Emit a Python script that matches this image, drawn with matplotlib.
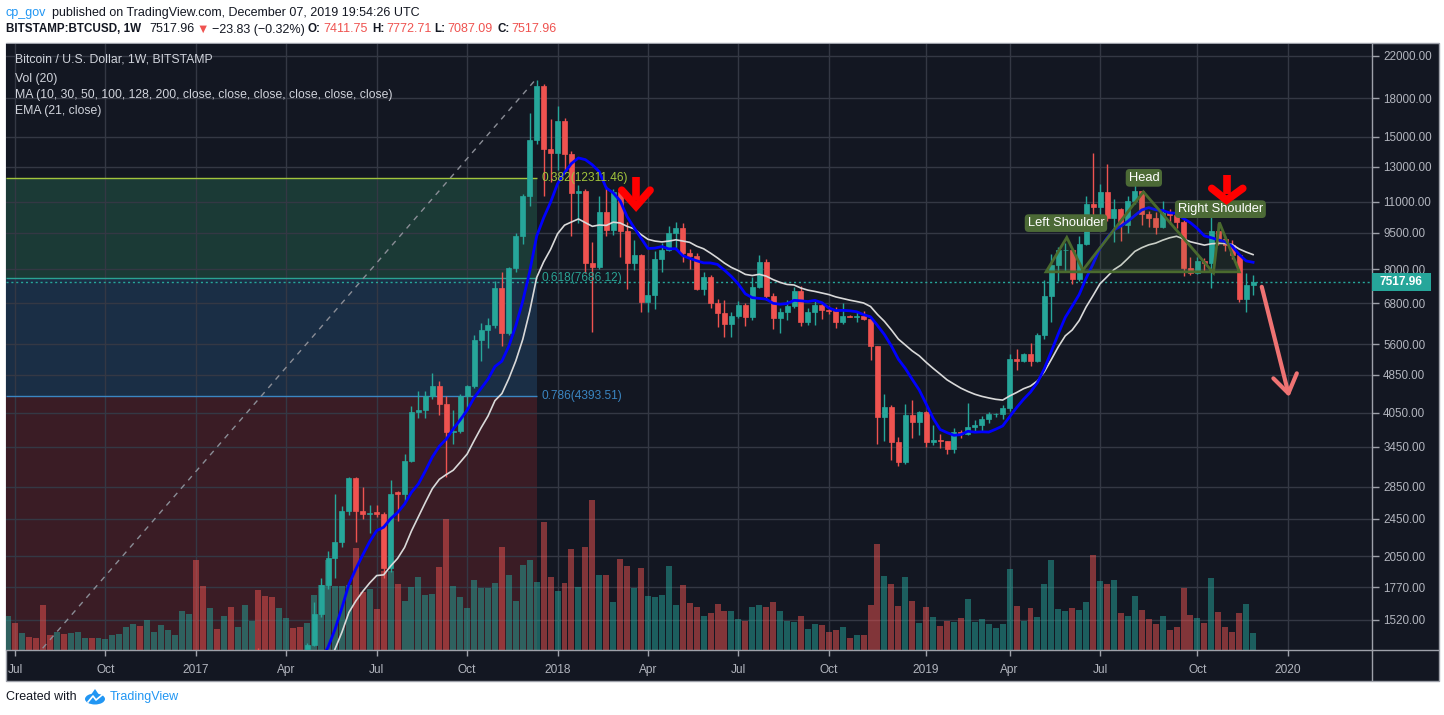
import numpy as np
import pandas as pd
import matplotlib
matplotlib.use("Agg")
import matplotlib.pyplot as plt
import matplotlib.transforms as mtransforms
from matplotlib.patches import Rectangle, Polygon, Ellipse
from matplotlib.lines import Line2D
from matplotlib.ticker import NullLocator, NullFormatter

plt.rcParams['font.family'] = ['Liberation Sans', 'DejaVu Sans']

# ---------------- data (weekly BITSTAMP:BTCUSD, first week starts 2016-06-27) -------------
FIRST_WEEK = "2016-06-27"
OPEN = [
    625, 660, 650, 665, 655, 625, 590, 570, 580, 570,
    605, 608, 610, 603, 612, 618, 640, 655, 700, 705,
    702, 735, 740, 765, 775, 790, 890, 995, 905, 820,
    920, 915, 1010, 995, 1050, 1180, 1250, 1230, 1020, 965,
    1090, 1180, 1175, 1170, 1350, 1560, 1790, 2030, 2190, 2540,
    2975, 2540, 2510, 2530, 2510, 1940, 2780, 2755, 3220, 4060,
    4100, 4380, 4600, 4230, 3690, 3710, 4390, 4600, 5720, 6000,
    6150, 7320, 5900, 8050, 9340, 11290, 14740, 19040, 14170, 13870,
    16180, 13800, 11500, 11590, 8220, 8070, 10490, 9630, 11505, 9600,
    8220, 8560, 6840, 7080, 8380, 8740, 9500, 9730, 8630, 8500,
    7290, 7720, 6810, 6500, 6180, 6400, 6760, 6380, 7340, 8260,
    7060, 6340, 6520, 6720, 7220, 6240, 6530, 6760, 6600, 6570,
    6240, 6400, 6390, 6420, 6330, 5570, 3970, 4160, 3530, 3200,
    4000, 3870, 4070, 3520, 3560, 3540, 3410, 3690, 3660, 3780,
    3830, 3940, 4020, 4030, 4150, 5230, 5180, 5350, 5170, 5850,
    7030, 8150, 8760, 8780, 7650, 9000, 10890, 10760, 11530, 10190,
    10650, 9880, 11040, 11560, 10400, 10180, 9790, 10440, 10320, 10020,
    8060, 7870, 8320, 8250, 9590, 9240, 8950, 8550, 6930, 7411.75,
]
HIGH = [
    705, 680, 680, 680, 660, 630, 600, 590, 585, 615,
    630, 612, 612, 615, 622, 645, 660, 720, 745, 740,
    755, 750, 770, 780, 800, 925, 1000, 1150, 910, 935,
    925, 1030, 1065, 1060, 1200, 1280, 1330, 1260, 1060, 1100,
    1210, 1215, 1270, 1360, 1650, 1850, 2100, 2760, 2600, 2990,
    2990, 2850, 2610, 2620, 2530, 2950, 2790, 3330, 4190, 4480,
    4480, 4890, 4700, 4380, 4100, 4420, 4620, 5850, 6200, 6350,
    7550, 7880, 8100, 9500, 11400, 16800, 19600, 19200, 16300, 17300,
    16400, 14000, 11900, 11720, 9100, 11340, 11860, 11700, 11700, 9980,
    9200, 8600, 7560, 8710, 9040, 9830, 9980, 9950, 8810, 8650,
    7880, 7780, 6930, 6920, 6530, 6870, 6820, 7700, 8540, 8380,
    7150, 6650, 6920, 7340, 7370, 6650, 6920, 6860, 6720, 6700,
    6800, 6440, 6530, 6570, 6350, 5570, 4420, 4200, 3610, 4230,
    4310, 4090, 4090, 3830, 3670, 3550, 3760, 3730, 4240, 3920,
    3980, 4060, 4050, 4200, 5360, 5480, 5370, 5630, 5900, 7600,
    8580, 8900, 9050, 8800, 9370, 11310, 13880, 12000, 13150, 11130,
    10700, 11300, 12300, 11600, 10560, 10470, 11030, 10640, 10640, 10100,
    8460, 8480, 8450, 10350, 9950, 9350, 9170, 8600, 7840, 7772.71,
]
LOW = [
    610, 610, 645, 650, 620, 480, 565, 565, 565, 565,
    600, 600, 592, 598, 606, 612, 630, 650, 685, 690,
    695, 720, 725, 755, 770, 785, 885, 750, 760, 810,
    880, 910, 950, 990, 1040, 1140, 1100, 950, 890, 930,
    1080, 1140, 1160, 1165, 1340, 1540, 1760, 1850, 2140, 2500,
    2190, 2450, 2290, 2470, 1850, 1900, 2420, 2650, 3200, 3950,
    3950, 4330, 4000, 2980, 3500, 3680, 4150, 4560, 5170, 5500,
    6050, 5550, 5850, 7900, 9000, 10800, 14500, 11290, 12100, 12800,
    12800, 9340, 9950, 7850, 5950, 8000, 9340, 9400, 8470, 7290,
    7950, 6530, 6530, 6620, 7880, 8700, 8780, 8280, 7990, 7250,
    7080, 6640, 6080, 5800, 5800, 6340, 6120, 6300, 7300, 6920,
    6030, 5900, 6300, 6650, 6120, 6150, 6130, 6320, 6460, 6060,
    6180, 6370, 6240, 6300, 5200, 3500, 3540, 3230, 3140, 3180,
    3590, 3640, 3450, 3480, 3420, 3330, 3340, 3590, 3640, 3700,
    3700, 3850, 3960, 3930, 4080, 4950, 5150, 5050, 5150, 5750,
    6230, 7550, 7900, 7450, 7580, 8950, 10300, 9700, 10050, 9090,
    9160, 9500, 10900, 9880, 9770, 9470, 9700, 9900, 9700, 7750,
    7790, 7800, 7900, 7300, 8950, 8730, 8400, 6860, 6540, 7087.09,
]
CLOSE = [
    665, 650, 665, 655, 625, 590, 570, 580, 570, 605,
    608, 610, 603, 612, 618, 640, 655, 700, 705, 702,
    735, 740, 765, 775, 790, 890, 995, 905, 820, 920,
    915, 1010, 995, 1050, 1180, 1250, 1230, 1020, 965, 1090,
    1180, 1175, 1170, 1350, 1560, 1790, 2030, 2190, 2540, 2975,
    2540, 2510, 2520, 2510, 1940, 2755, 2755, 3220, 4060, 4100,
    4380, 4600, 4230, 3700, 3710, 4390, 4600, 5720, 6000, 6150,
    7320, 5900, 8050, 9340, 11290, 14740, 19040, 14170, 13870, 16180,
    13800, 11500, 11590, 8220, 8070, 10490, 9630, 11505, 9600, 8220,
    8560, 6840, 7080, 8380, 8740, 9500, 9730, 8630, 8500, 7290,
    7720, 6810, 6500, 6180, 6400, 6760, 6380, 7340, 8260, 7060,
    6340, 6520, 6720, 7220, 6240, 6530, 6760, 6600, 6570, 6240,
    6400, 6390, 6420, 6330, 5570, 3970, 4160, 3530, 3200, 4000,
    3870, 4070, 3520, 3560, 3540, 3410, 3690, 3660, 3780, 3830,
    3940, 4020, 4030, 4150, 5230, 5180, 5350, 5170, 5850, 7030,
    8150, 8760, 8780, 7650, 9000, 10890, 10760, 11530, 10190, 10650,
    9880, 11040, 11560, 10400, 10180, 9790, 10440, 10320, 10020, 8060,
    7870, 8320, 8250, 9590, 9240, 8950, 8550, 6930, 7410, 7517.96,
]
VOLUME_K = [  # weekly volume, thousand BTC
    34, 27, 17, 13, 12, 45, 15, 18, 16, 17,
    18, 12, 12, 12, 11, 15, 16, 23, 26, 24,
    30, 18, 25, 20, 15, 39, 36, 90, 64, 42,
    21, 34, 43, 23, 45, 29, 60, 54, 53, 42,
    32, 22, 23, 27, 55, 65, 90, 64, 64, 65,
    102, 58, 61, 41, 79, 79, 66, 49, 63, 73,
    55, 56, 83, 131, 64, 53, 42, 70, 62, 62,
    67, 103, 75, 49, 85, 90, 68, 128, 73, 59,
    67, 101, 63, 103, 150, 75, 75, 48, 91, 84,
    62, 82, 54, 53, 55, 84, 45, 65, 47, 43,
    34, 37, 46, 39, 39, 31, 29, 43, 45, 43,
    48, 39, 29, 28, 34, 21, 26, 25, 18, 20,
    23, 12, 15, 15, 45, 106, 74, 66, 44, 73,
    49, 27, 43, 33, 24, 29, 28, 32, 51, 28,
    31, 26, 22, 26, 81, 44, 29, 42, 33, 66,
    90, 41, 39, 42, 40, 48, 95, 69, 66, 70,
    37, 34, 54, 40, 31, 26, 34, 20, 23, 62,
    35, 32, 27, 72, 38, 23, 18, 37, 46, 17,
]
PRICE_TICKS = [1520, 1770, 2050, 2450, 2850, 3450, 4050, 4850, 5600, 6800,
               8000, 9500, 11000, 13000, 15000, 18000, 22000]
X_TICK_DATES = ["2016-07-04", "2016-10-03", "2017-01-02", "2017-04-03", "2017-07-03",
                "2017-10-02", "2018-01-01", "2018-04-02", "2018-07-02", "2018-10-01",
                "2019-01-07", "2019-04-01", "2019-07-01", "2019-10-07", "2020-01-06"]
X_TICK_LABELS = ["Jul", "Oct", "2017", "Apr", "Jul", "Oct", "2018", "Apr", "Jul", "Oct",
                 "2019", "Apr", "Jul", "Oct", "2020"]
LAST_PRICE = 7517.96
FIB_HIGH, FIB_LOW = 19798.24, 199.34
FIB_LEVELS = [0.382, 0.618, 0.786]
FIB_PRICES = [12311.46, 7686.12, 4393.51]

# ---------------- styling ----------------
BG = '#131722'
TEAL = '#26a69a'
RED = '#ef5350'
GRID = '#343844'
AXTXT = '#b2b5be'
FRAME = '#9ea1aa'

W, H = 1444, 715
fig = plt.figure(figsize=(W / 100, H / 100), dpi=100)
fig.patch.set_facecolor('white')


def fx(p):
    return p / W


def fy(p):
    return 1 - p / H


fig.add_artist(Rectangle((fx(5.5), fy(680.5)), fx(1438.5) - fx(5.5), fy(43) - fy(680.5),
                         transform=fig.transFigure, facecolor=BG, edgecolor=FRAME,
                         lw=1.0, zorder=-10))

ax = fig.add_axes([fx(6), fy(650), fx(1372) - fx(6), fy(43.5) - fy(650)])
ax.set_facecolor(BG)
ax.set_yscale('log')

O = np.array(OPEN, float)
Hh = np.array(HIGH, float)
L = np.array(LOW, float)
C = np.array(CLOSE, float)
V = np.array(VOLUME_K, float)
n = len(C)
x = np.arange(n)
up = C >= O
col = np.where(up, TEAL, RED)

first = pd.Timestamp(FIRST_WEEK)
tick_pos = [(pd.Timestamp(d) - first).days / 7 for d in X_TICK_DATES]

XL = (-0.3, 196.1)
YL = (1315.5, 23310)

# Fibonacci retracement zones
p382, p618, p786 = FIB_PRICES
FIB_END_X = 76.05
FIB_START_X = -44.87
ax.fill_between([XL[0], FIB_END_X], p618, p382, color='#1b3a36', lw=0, zorder=0.2)
ax.fill_between([XL[0], FIB_END_X], p786, p618, color='#1a2e45', lw=0, zorder=0.2)
ax.fill_between([XL[0], FIB_END_X], FIB_LOW, p786, color='#3a1c25', lw=0, zorder=0.2)
fib_cols = ['#a2c43c', '#2aa394', '#3a86c2']
for r, p, c in zip(FIB_LEVELS, FIB_PRICES, fib_cols):
    ax.hlines(p, XL[0], FIB_END_X, color=c, lw=1, zorder=1.5)
    ax.text(76.7, p, f"{r}({p:.2f})", color=c, fontsize=8.6,
            va='center', ha='left', zorder=6)
ax.plot([FIB_START_X, FIB_END_X], [FIB_LOW, FIB_HIGH], color='#8a8d96', lw=1,
        ls=(0, (4, 4)), zorder=1.6)

# volume (bottom overlay)
vtrans = mtransforms.blended_transform_factory(ax.transData, ax.transAxes)
vcol = [(0.149, 0.651, 0.604, 0.5) if u else (0.937, 0.325, 0.314, 0.5) for u in up]
ax.bar(x, V / (V.max() * 4.05), width=0.86, bottom=0, color=vcol, lw=0,
       transform=vtrans, zorder=1)

# candles
ax.vlines(x, L, Hh, colors=col, lw=1, zorder=3)
ax.bar(x, np.abs(C - O), bottom=np.minimum(O, C), width=0.72, color=col,
       edgecolor=col, linewidth=0.5, zorder=4)

# moving averages
cs = pd.Series(C)
sma10 = cs.rolling(10).mean()
ema21 = cs.ewm(span=21, adjust=False).mean()
ax.plot(x, ema21, color='#d9d9d9', lw=1.2, zorder=5)
ax.plot(x, sma10, color='#0000ff', lw=2.0, zorder=5.1)

# current price line
ax.axhline(LAST_PRICE, color=TEAL, lw=1, ls=(0, (1.5, 2)), zorder=2)

# head & shoulders pattern
hs = [(149.24, 7899), (152.22, 9297), (154.52, 7963), (163.23, 11540),
      (173.30, 7862), (174.16, 9982), (177.03, 7899)]
ax.add_patch(Polygon(hs, closed=True, facecolor=(0.35, 0.55, 0.25, 0.12),
                     edgecolor='#4a6a2e', lw=2.0, zorder=5.5))
for txt, xx, yy in [("Left Shoulder", 152.1, 9950), ("Head", 163.3, 12330),
                    ("Right Shoulder", 174.3, 10630)]:
    ax.text(xx, yy, txt, ha='center', va='center', color='white', fontsize=9.3,
            zorder=8, bbox=dict(boxstyle='round,pad=0.22,rounding_size=0.3',
                                fc='#4c6a36', ec='none'))

# red arrows
for sx, top, tip, wl, wr, wy in [(90.29, 12390, 10780, 88.23, 92.30, 11630),
                                   (175.19, 12490, 11095, 173.06, 177.52, 11730)]:
    ax.plot([sx, sx], [top, tip * 1.03], color='#ff0000', lw=5.5, zorder=9,
            solid_capstyle='butt')
    ax.plot([wl, sx, wr], [wy, tip, wy], color='#ff0000', lw=5.5, zorder=9,
            solid_joinstyle='miter', solid_capstyle='round')
# projected move arrow
ax.plot([180.25, 184.08], [7357, 4440], color='#ef7373', lw=3, zorder=9,
        solid_capstyle='round')
ax.plot([181.92, 184.08, 185.29], [4767, 4440, 4882], color='#ef7373', lw=3, zorder=9,
        solid_capstyle='round', solid_joinstyle='round')

# axes setup
ax.set_xlim(*XL)
ax.set_ylim(*YL)
ax.set_axisbelow(True)
ax.yaxis.tick_right()
ax.set_yticks(PRICE_TICKS, labels=[f"{t:.2f}" for t in PRICE_TICKS])
ax.yaxis.set_minor_locator(NullLocator())
ax.yaxis.set_minor_formatter(NullFormatter())
ax.set_xticks(tick_pos, labels=X_TICK_LABELS)
ax.tick_params(axis='y', length=5, width=1, color=FRAME, labelcolor=AXTXT,
               labelsize=8.4, pad=3)
ax.tick_params(axis='x', length=4, width=1, color=FRAME, labelcolor=AXTXT,
               labelsize=8.6, pad=6)
ax.grid(True, color=GRID, lw=1)
for s in ['top', 'left']:
    ax.spines[s].set_visible(False)
for s in ['right', 'bottom']:
    ax.spines[s].set_color(FRAME)
    ax.spines[s].set_linewidth(1)

fig.add_artist(Line2D([fx(1372), fx(1438)], [fy(650), fy(650)], transform=fig.transFigure,
                      color=FRAME, lw=1))
fig.add_artist(Line2D([fx(1372), fx(1372)], [fy(650), fy(680)], transform=fig.transFigure,
                      color=FRAME, lw=1))

# last price label on the axis
ydisp = ax.transData.transform((0, LAST_PRICE))[1]
yfig = ydisp / H
fig.add_artist(Rectangle((fx(1372), yfig - 9 / H), 59 / W, 18 / H, transform=fig.transFigure,
                         facecolor=TEAL, edgecolor='none', zorder=5))
fig.text(fx(1380), yfig, f"{LAST_PRICE:.2f}", color='white', fontsize=8.6,
         fontweight='bold', va='center', ha='left', zorder=6)

# legend texts inside chart
LEG = '#d1d4dc'
for yy, t in [(60, "Bitcoin / U.S. Dollar, 1W, BITSTAMP"), (79, "Vol (20)"),
              (95, "MA (10, 30, 50, 100, 128, 200, close, close, close, close, close, close)"),
              (111, "EMA (21, close)")]:
    fig.text(fx(15), fy(yy), t, color=LEG, fontsize=8.8, va='center', ha='left')

# header
DARK = '#131722'
fig.text(fx(6), fy(13), "cp_gov", color='#2196f3', fontsize=9.0, va='center')
fig.text(fx(52), fy(13), "published on TradingView.com, December 07, 2019 19:54:26 UTC",
         color=DARK, fontsize=9.0, va='center')
pieces = [(6, "BITSTAMP:BTCUSD, 1W", DARK, 'bold'), (149.5, "7517.96", DARK, 'normal'),
          (196, "\u25bc", RED, 'normal'), (212, "\u221223.83 (\u22120.32%)", DARK, 'normal'),
          (307.5, "O:", DARK, 'bold'), (323, f"{OPEN[-1]:.2f}", RED, 'normal'),
          (372.5, "H:", DARK, 'bold'), (386, f"{HIGH[-1]:.2f}", RED, 'normal'),
          (434.5, "L:", DARK, 'bold'), (447.5, f"{LOW[-1]:.2f}", RED, 'normal'),
          (497, "C:", DARK, 'bold'), (511, f"{CLOSE[-1]:.2f}", RED, 'normal')]
for px_, t, c, w in pieces:
    fs = 8.4 if w == 'bold' else 9.0
    fig.text(fx(px_), fy(29.5), t, color=c, fontsize=fs, fontweight=w, va='center')

# footer
fig.text(fx(6), fy(697), "Created with", color=DARK, fontsize=9.0, va='center')
fig.add_artist(Ellipse((fx(95), fy(699)), 20 / W, 11 / H, transform=fig.transFigure,
                       facecolor='#2196f3', edgecolor='none'))
fig.add_artist(Polygon([(fx(88), fy(699)), (fx(95), fy(689)), (fx(102), fy(699))],
                       closed=True, transform=fig.transFigure, facecolor='#2196f3',
                       edgecolor='none'))
fig.add_artist(Line2D([fx(88), fx(93), fx(96), fx(102)], [fy(702), fy(696), fy(700), fy(695)],
                      transform=fig.transFigure, color='white', lw=1.2))
fig.text(fx(110), fy(697), "TradingView", color='#2196f3', fontsize=9.0, va='center')

fig.savefig("out.png", dpi=100, facecolor=fig.get_facecolor())
